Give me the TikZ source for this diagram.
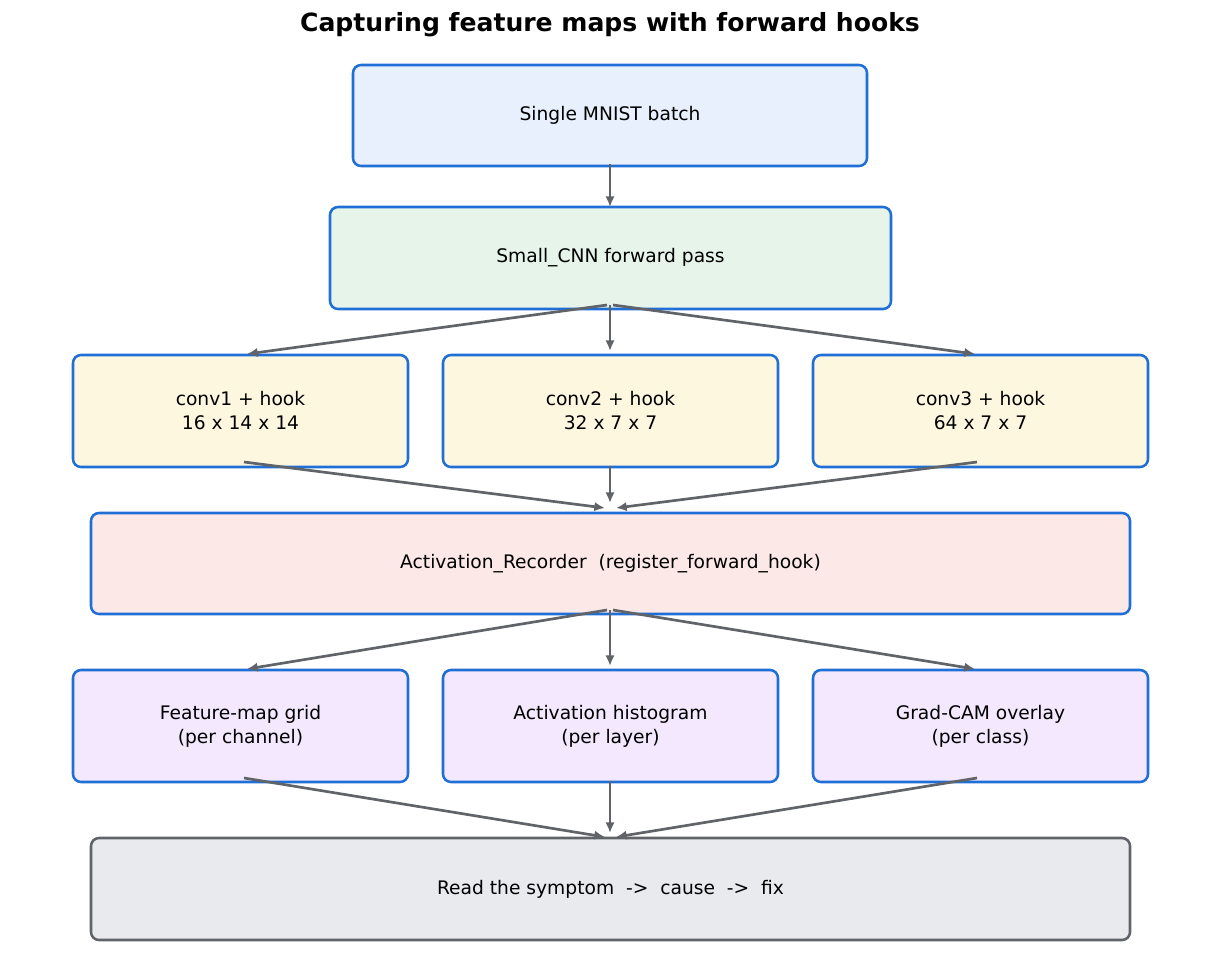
\documentclass[tikz,border=0pt]{standalone}
\usepackage{fontspec}
\setmainfont{DejaVu Sans}
\usetikzlibrary{arrows.meta}
\definecolor{bl}{HTML}{1F6FD6}
\definecolor{gr}{HTML}{606368}
\definecolor{fa}{HTML}{E8F0FE}
\definecolor{fb}{HTML}{E6F4EA}
\definecolor{fc}{HTML}{FEF7E0}
\definecolor{fr}{HTML}{FCE8E6}
\definecolor{fv}{HTML}{F3E8FD}
\definecolor{fg}{HTML}{E8EAED}
\begin{document}
\begin{tikzpicture}[x=0.75pt,y=-0.75pt,
 box/.style={draw=bl,line width=1.9pt,rounded corners=6pt,align=center,font=\fontsize{14}{18}\selectfont},
 arr/.style={draw=gr,line width=2pt,-{Latex[length=8pt,width=7pt]}}]
\useasboundingbox (0,0) rectangle (1221,975);
\node[font=\bfseries\fontsize{18.8}{22}\selectfont] (t) at (610,25) {Capturing feature maps with forward hooks};
\newcommand\bx[7]{\node[box,fill=#6,minimum width={(#3-#2)*0.75pt},minimum height={(#5-#4)*0.75pt}] (#1) at ({(#2+#3)/2},{(#4+#5)/2}) {#7};}
\bx{a}{353}{867}{65}{166}{fa}{Single MNIST batch}
\bx{b}{330}{891}{207}{309}{fb}{Small\_CNN forward pass}
\bx{c1}{73}{408}{355}{467}{fc}{conv1 + hook\\16 x 14 x 14}
\bx{c2}{443}{778}{355}{467}{fc}{conv2 + hook\\32 x 7 x 7}
\bx{c3}{813}{1148}{355}{467}{fc}{conv3 + hook\\64 x 7 x 7}
\bx{r}{91}{1130}{513}{614}{fr}{Activation\_Recorder\ \ (register\_forward\_hook)}
\bx{v1}{73}{408}{670}{782}{fv}{Feature-map grid\\(per channel)}
\bx{v2}{443}{778}{670}{782}{fv}{Activation histogram\\(per layer)}
\bx{v3}{813}{1148}{670}{782}{fv}{Grad-CAM overlay\\(per class)}
\node[box,draw=gr,fill=fg,minimum width={1039*0.75pt},minimum height={102*0.75pt}] (f) at (610.5,889) {Read the symptom\ \ ->\ \ cause\ \ ->\ \ fix};
\coordinate (as) at (610,164); \coordinate (bt) at (610,207);
\coordinate (bs) at (610,305); \coordinate (bsl) at (607,305); \coordinate (bsr) at (613,305);
\coordinate (c2t) at (610,351); \coordinate (v2t) at (610,666);
\draw[arr] (as) -- (bt);
\draw[arr] (bsl) -- (247,354); \draw[arr] (bs) -- (c2t); \draw[arr] (bsr) -- (975,354);
\coordinate (c1s) at (244,462); \coordinate (c2s) at (610,466); \coordinate (c3s) at (977,462);
\draw[arr] (c1s) -- (605,508); \draw[arr] (c2s) -- (610,503); \draw[arr] (c3s) -- (616,508);
\coordinate (rs) at (610,610); \coordinate (rsl) at (607,610); \coordinate (rsr) at (613,610);
\draw[arr] (rsl) -- (247,669); \draw[arr] (rs) -- (v2t); \draw[arr] (rsr) -- (975,669);
\coordinate (v1s) at (244,778); \coordinate (v2s) at (610,781); \coordinate (v3s) at (977,778);
\draw[arr] (v1s) -- (605,837); \draw[arr] (v2s) -- (610,833); \draw[arr] (v3s) -- (616,837);
\end{tikzpicture}
\end{document}
